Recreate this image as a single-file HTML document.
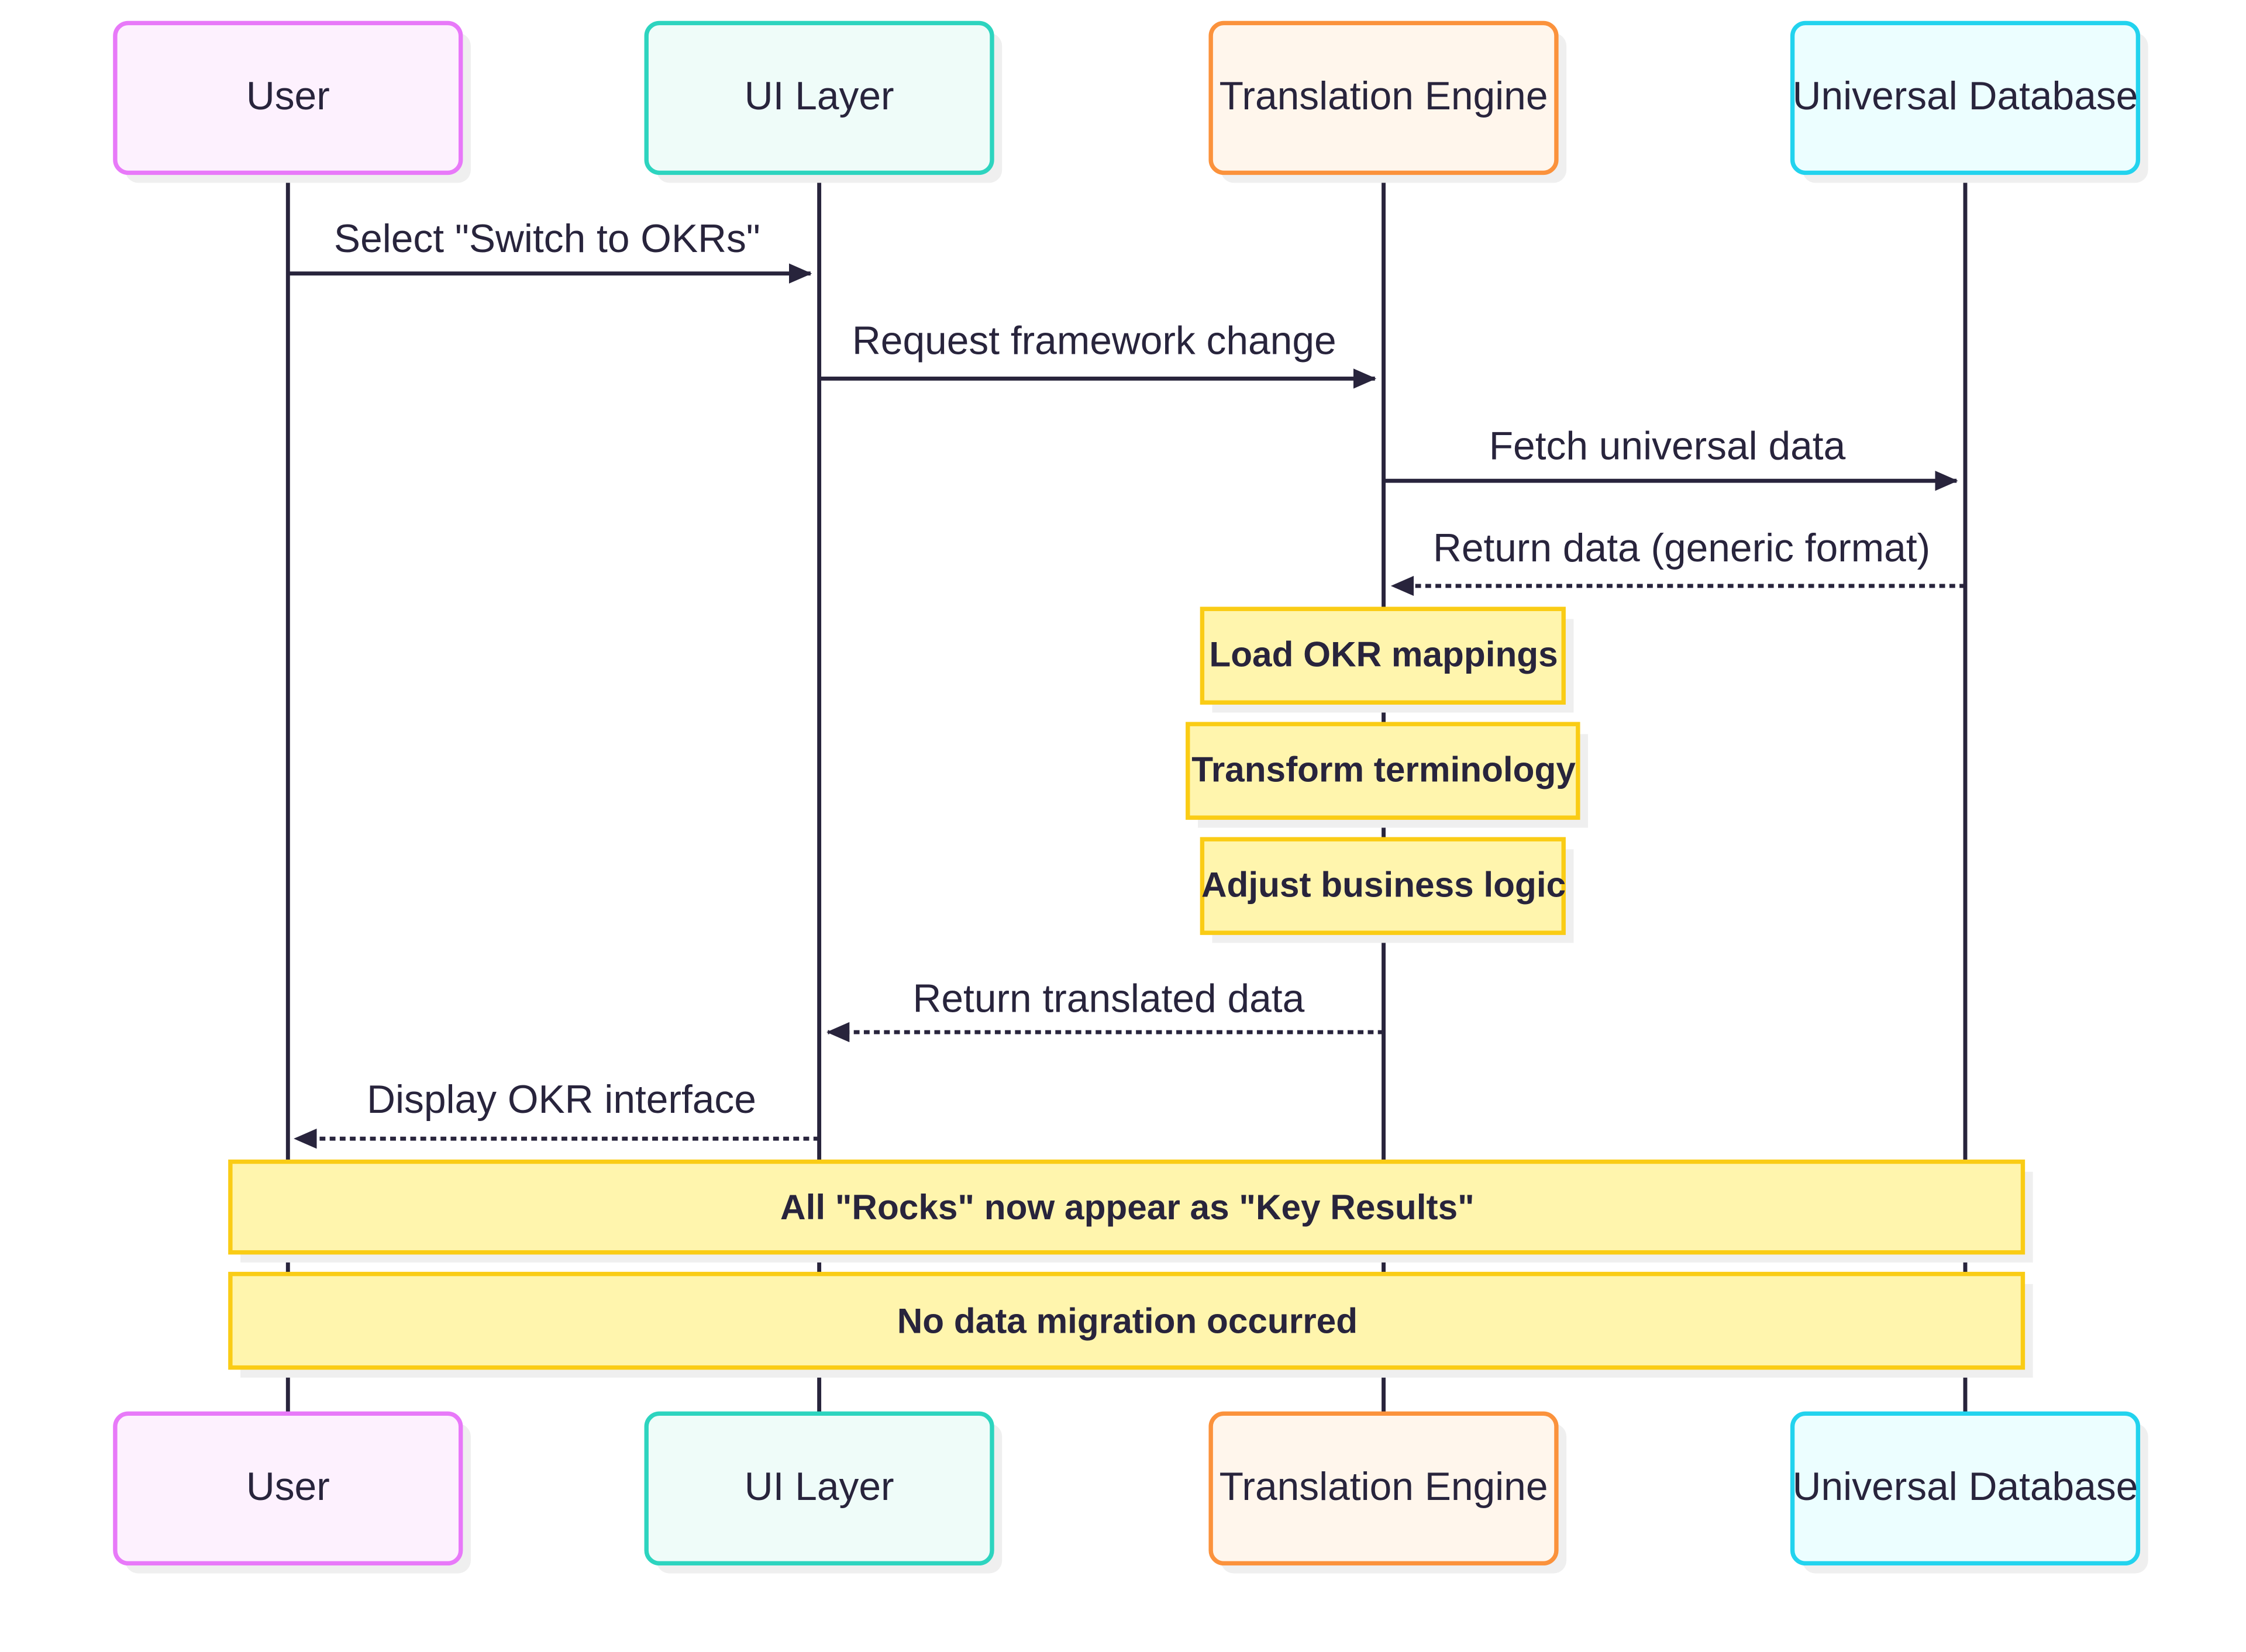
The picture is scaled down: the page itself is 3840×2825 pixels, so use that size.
<!DOCTYPE html>
<html><head><meta charset="utf-8"><style>
html,body{margin:0;padding:0;background:#fff;}
svg{display:block;}
text{font-family:"Liberation Sans",sans-serif;fill:#28243c;}
</style></head><body>
<svg width="3840" height="2825" viewBox="0 0 1560 1147.6" preserveAspectRatio="none" xmlns="http://www.w3.org/2000/svg">
<defs>
<marker id="ah" markerWidth="16" markerHeight="14" refX="15" refY="7" orient="auto" markerUnits="userSpaceOnUse">
<path d="M0,0 L16,7 L0,14 z" fill="#28243c"/>
</marker>
</defs>
<g stroke="#28243c" stroke-width="2.8">
<line x1="200" y1="120" x2="200" y2="982"/>
<line x1="569" y1="120" x2="569" y2="982"/>
<line x1="961" y1="120" x2="961" y2="982"/>
<line x1="1365" y1="120" x2="1365" y2="982"/>
</g>
<g stroke-width="3">
<rect x="87" y="23" width="240" height="104" rx="9" fill="#efefef" stroke="none"/>
<rect x="456" y="23" width="240" height="104" rx="9" fill="#efefef" stroke="none"/>
<rect x="848" y="23" width="240" height="104" rx="9" fill="#efefef" stroke="none"/>
<rect x="1252" y="23" width="240" height="104" rx="9" fill="#efefef" stroke="none"/>
<rect x="80" y="16" width="240" height="104" rx="9" fill="#fdf1fe" stroke="#e879f9"/>
<rect x="449" y="16" width="240" height="104" rx="9" fill="#effcf9" stroke="#2dd4bf"/>
<rect x="841" y="16" width="240" height="104" rx="9" fill="#fff6ec" stroke="#fb923c"/>
<rect x="1245" y="16" width="240" height="104" rx="9" fill="#ecfeff" stroke="#22d3ee"/>
<rect x="87" y="989" width="240" height="104" rx="9" fill="#efefef" stroke="none"/>
<rect x="456" y="989" width="240" height="104" rx="9" fill="#efefef" stroke="none"/>
<rect x="848" y="989" width="240" height="104" rx="9" fill="#efefef" stroke="none"/>
<rect x="1252" y="989" width="240" height="104" rx="9" fill="#efefef" stroke="none"/>
<rect x="80" y="982" width="240" height="104" rx="9" fill="#fdf1fe" stroke="#e879f9"/>
<rect x="449" y="982" width="240" height="104" rx="9" fill="#effcf9" stroke="#2dd4bf"/>
<rect x="841" y="982" width="240" height="104" rx="9" fill="#fff6ec" stroke="#fb923c"/>
<rect x="1245" y="982" width="240" height="104" rx="9" fill="#ecfeff" stroke="#22d3ee"/>
</g>
<g font-size="27.5" text-anchor="middle">
<text x="200" y="76">User</text>
<text x="569" y="76">UI Layer</text>
<text x="961" y="76">Translation Engine</text>
<text x="1365" y="76">Universal Database</text>
<text x="200" y="1042">User</text>
<text x="569" y="1042">UI Layer</text>
<text x="961" y="1042">Translation Engine</text>
<text x="1365" y="1042">Universal Database</text>
</g>
<g stroke="#28243c" stroke-width="2.8" fill="none">
<line x1="200" y1="190" x2="563" y2="190" marker-end="url(#ah)"/>
<line x1="569" y1="263" x2="955" y2="263" marker-end="url(#ah)"/>
<line x1="961" y1="334" x2="1359" y2="334" marker-end="url(#ah)"/>
<line x1="1365" y1="407" x2="967" y2="407" stroke-dasharray="4,3" marker-end="url(#ah)"/>
<line x1="961" y1="717" x2="575" y2="717" stroke-dasharray="4,3" marker-end="url(#ah)"/>
<line x1="569" y1="791" x2="205" y2="791" stroke-dasharray="4,3" marker-end="url(#ah)"/>
</g>
<g font-size="27.5" text-anchor="middle">
<text x="380" y="175">Select "Switch to OKRs"</text>
<text x="760" y="246">Request framework change</text>
<text x="1158" y="319">Fetch universal data</text>
<text x="1168" y="390">Return data (generic format)</text>
<text x="770" y="703">Return translated data</text>
<text x="390" y="773">Display OKR interface</text>
</g>
<g stroke-width="3">
<rect x="842" y="430" width="251" height="65" fill="#efefef"/>
<rect x="832" y="510" width="271" height="65" fill="#efefef"/>
<rect x="842" y="590" width="251" height="65" fill="#efefef"/>
<rect x="167" y="814" width="1245" height="63" fill="#efefef"/>
<rect x="167" y="892" width="1245" height="65" fill="#efefef"/>
<rect x="835" y="423" width="251" height="65" fill="#fff5ad" stroke="#facc15"/>
<rect x="825" y="503" width="271" height="65" fill="#fff5ad" stroke="#facc15"/>
<rect x="835" y="583" width="251" height="65" fill="#fff5ad" stroke="#facc15"/>
<rect x="160" y="807" width="1245" height="63" fill="#fff5ad" stroke="#facc15"/>
<rect x="160" y="885" width="1245" height="65" fill="#fff5ad" stroke="#facc15"/>
</g>
<g font-size="24.5" font-weight="bold" text-anchor="middle">
<text x="961" y="463">Load OKR mappings</text>
<text x="961" y="543">Transform terminology</text>
<text x="961" y="623">Adjust business logic</text>
<text x="783" y="847">All "Rocks" now appear as "Key Results"</text>
<text x="783" y="926">No data migration occurred</text>
</g>
</svg>
</body></html>
